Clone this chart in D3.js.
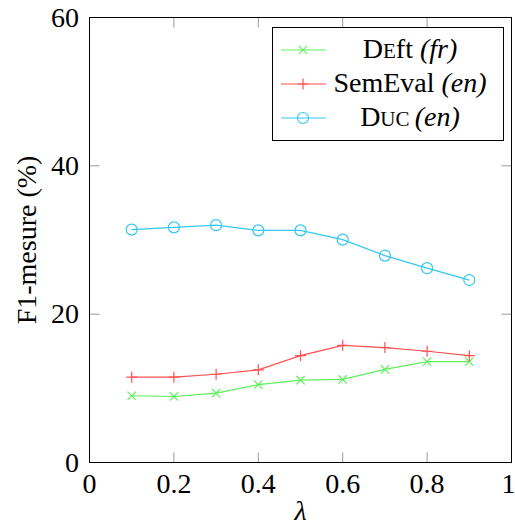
<!DOCTYPE html>
<html><head><meta charset="utf-8">
<script src="https://cdn.jsdelivr.net/npm/d3@7"></script>
<style>body{margin:0;background:#fff}</style>
</head><body>
<svg id="c" width="515" height="527"></svg>
<script>
const lambdas = [0.1,0.2,0.3,0.4,0.5,0.6,0.7,0.8,0.9];
const deft    = [9.0, 8.9, 9.35, 10.5, 11.1, 11.2, 12.55, 13.6, 13.6];
const semeval = [11.5, 11.5, 11.9, 12.5, 14.4, 15.8, 15.5, 15.0, 14.4];
const duc     = [31.4, 31.7, 32.0, 31.3, 31.3, 30.05, 27.9, 26.2, 24.6];
const xTicks = [0, 0.2, 0.4, 0.6, 0.8, 1];
const yTicks = [0, 20, 40, 60];

const svg = d3.select("#c");
const font = "Liberation Serif, DejaVu Serif, serif";
const L = 89.5, R = 511.5, T = 17.5, B = 462.5;
const x = d3.scaleLinear().domain([0,1]).range([L,R]);
const y = d3.scaleLinear().domain([0,60]).range([B,T]);

// ticks inside, all four sides
const tl = 10;
const g = svg.append("g");
xTicks.forEach(t => {
  if (t===0||t===1) return;
  g.append("line").attr("x1",x(t)).attr("x2",x(t)).attr("y1",B).attr("y2",B-tl).attr("stroke","#999").attr("stroke-width",1);
  g.append("line").attr("x1",x(t)).attr("x2",x(t)).attr("y1",T).attr("y2",T+tl).attr("stroke","#999").attr("stroke-width",1);
});
yTicks.forEach(t => {
  if (t===0||t===60) return;
  g.append("line").attr("y1",y(t)).attr("y2",y(t)).attr("x1",L).attr("x2",L+tl).attr("stroke","#999").attr("stroke-width",1);
  g.append("line").attr("y1",y(t)).attr("y2",y(t)).attr("x1",R).attr("x2",R-tl).attr("stroke","#999").attr("stroke-width",1);
});

// tick labels
svg.append("g").selectAll("text").data(xTicks).join("text")
  .attr("x",d=>d===1?x(d)-3:x(d)).attr("y",493).attr("text-anchor","middle")
  .attr("font-family",font).attr("font-size",28).text(d=>d===0||d===1?String(d):d.toFixed(1));
svg.append("g").selectAll("text").data(yTicks).join("text")
  .attr("x",79).attr("y",d=>y(d)+9).attr("text-anchor","end")
  .attr("font-family",font).attr("font-size",28).text(d=>d);

// axis labels
svg.append("text").attr("transform",`translate(36,${(T+B)/2}) rotate(-90)`)
  .attr("text-anchor","middle").attr("font-family",font).attr("font-size",28).text("F1-mesure (%)");
svg.append("text").attr("x",(L+R)/2).attr("y",520).attr("text-anchor","middle")
  .attr("font-family",font).attr("font-size",28).attr("font-style","italic").text("λ");

const series = [
  {name:"deft", values:deft, color:"#5ef05e", marker:"x"},
  {name:"semeval", values:semeval, color:"#ff5050", marker:"+"},
  {name:"duc", values:duc, color:"#33c8f0", marker:"o"}
];
const line = d3.line().x(d=>x(d[0])).y(d=>y(d[1]));

function drawMarker(sel, type, cx, cy, color){
  if (type==="x"){
    const s=4.2;
    sel.append("path").attr("d",`M${cx-s},${cy-s}L${cx+s},${cy+s}M${cx-s},${cy+s}L${cx+s},${cy-s}`)
      .attr("stroke",color).attr("stroke-width",1.2).attr("fill","none");
  } else if (type==="+"){
    const s=5.5;
    sel.append("path").attr("d",`M${cx-s},${cy}L${cx+s},${cy}M${cx},${cy-s}L${cx},${cy+s}`)
      .attr("stroke",color).attr("stroke-width",1.2).attr("fill","none");
  } else {
    sel.append("circle").attr("cx",cx).attr("cy",cy).attr("r",5.5)
      .attr("stroke",color).attr("stroke-width",1.2).attr("fill","none");
  }
}

series.forEach(s=>{
  const pts = lambdas.map((l,i)=>[l,s.values[i]]);
  svg.append("path").attr("d",line(pts)).attr("fill","none").attr("stroke",s.color).attr("stroke-width",1.2);
  const mg = svg.append("g");
  pts.forEach(p=>drawMarker(mg, s.marker, x(p[0]), y(p[1]), s.color));
});

// frame
svg.append("rect").attr("x",L).attr("y",T).attr("width",R-L).attr("height",B-T)
  .attr("fill","none").attr("stroke","#000").attr("stroke-width",1);

// legend
const lg = svg.append("g");
lg.append("rect").attr("x",272.5).attr("y",27.5).attr("width",231).attr("height",113)
  .attr("fill","#fff").attr("stroke","#000").attr("stroke-width",1);
const rows = [
  {s:series[0], parts:[["D",28,"normal"],["E",21,"normal"],["ft ",28,"normal"],["(fr)",28,"italic"]]},
  {s:series[1], parts:[["SemEval ",28,"normal"],["(en)",28,"italic"]]},
  {s:series[2], parts:[["D",28,"normal"],["UC ",21,"normal"],["(en)",28,"italic"]]}
];
rows.forEach((r,i)=>{
  const ly = 50 + i*34;
  lg.append("line").attr("x1",281).attr("x2",326).attr("y1",ly).attr("y2",ly).attr("stroke",r.s.color).attr("stroke-width",1.2);
  drawMarker(lg, r.s.marker, 303, ly, r.s.color);
  const t = lg.append("text").attr("x",410).attr("y",ly+8).attr("text-anchor","middle").attr("font-family",font).attr("font-size",28);
  r.parts.forEach(p=>t.append("tspan").attr("font-size",p[1]).attr("font-style",p[2]).attr("xml:space","preserve").text(p[0]));
});
</script>
</body></html>
